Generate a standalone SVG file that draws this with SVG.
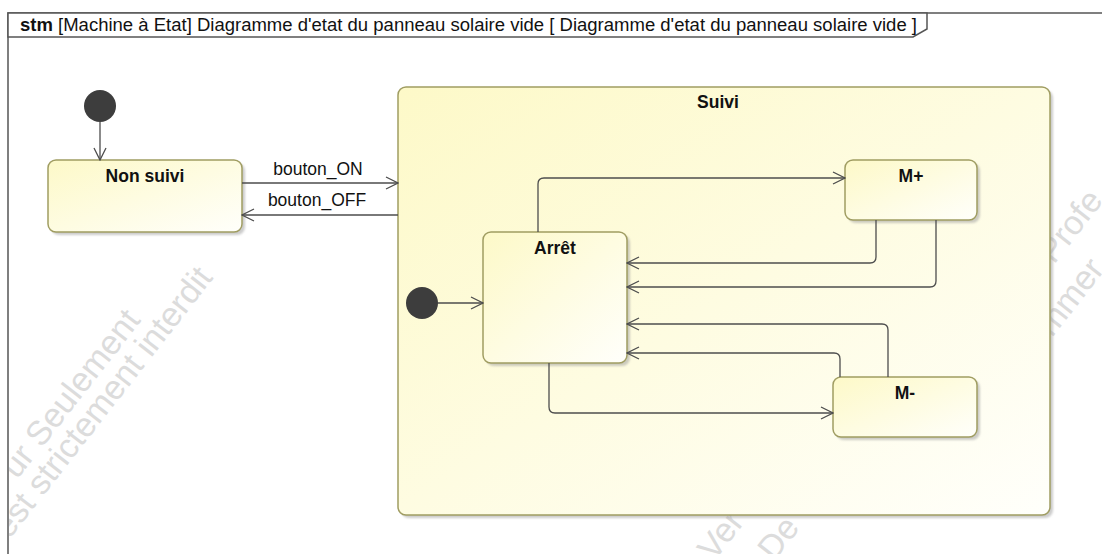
<svg xmlns="http://www.w3.org/2000/svg" width="1102" height="554" viewBox="0 0 1102 554">
<style>
.node{fill:url(#ng);stroke:#a09d62;stroke-width:1.5}
.shadow{fill:#9a9a9a;opacity:.5;filter:url(#blur)}
.lbl{font-family:"Liberation Sans",Arial,sans-serif;font-size:17.5px;font-weight:bold;fill:#111;text-anchor:middle}
.elbl{font-family:"Liberation Sans",Arial,sans-serif;font-size:17.5px;fill:#111;text-anchor:middle}
.edge{fill:none;stroke:#4d4d4d;stroke-width:1.3;marker-end:url(#arr)}
.init{fill:#3d3d3d}
.wm{font-family:"Liberation Sans",Arial,sans-serif;font-size:34px;fill:#dcdcdc}
.frame{fill:none;stroke:#555;stroke-width:1.5}
</style>
<defs>
<linearGradient id="ng" x1="0" y1="0" x2="1" y2="1">
<stop offset="0" stop-color="#fdf9c8"/>
<stop offset="1" stop-color="#fffffb"/>
</linearGradient>
<filter id="blur" x="-10%" y="-10%" width="120%" height="120%"><feGaussianBlur stdDeviation="1"/></filter>
<marker id="arr" markerUnits="userSpaceOnUse" markerWidth="14" markerHeight="14" viewBox="0 0 14 14" refX="13" refY="7" orient="auto">
<path d="M1,1 L13,7 L1,13" fill="none" stroke="#4d4d4d" stroke-width="1.3"/>
</marker>
<clipPath id="fc"><rect x="9" y="38" width="1093" height="516"/></clipPath>
</defs>
<rect x="0" y="0" width="1102" height="554" fill="#fff"/>

<g id="watermark" clip-path="url(#fc)">
<text class="wm" transform="translate(17,480) rotate(-52)">ur Seulement</text>
<text class="wm" transform="translate(9,540) rotate(-52)">est strictement interdit</text>
<text class="wm" transform="translate(1054,265) rotate(-52)">Profe</text>
<text class="wm" transform="translate(1052,338) rotate(-52)">mmer</text>
<text class="wm" transform="translate(714,562) rotate(-52)">Ver</text>
<text class="wm" transform="translate(774,562) rotate(-52)">De</text>
</g>

<g id="frame">
<path class="frame" d="M8,554 V13 H1102"/>
<path d="M8,13 H927 V29 L913,37 H8 Z" fill="#fff" stroke="#555" stroke-width="1.5"/>
<text x="20" y="31" font-family="'Liberation Sans',Arial,sans-serif" font-size="17.5" fill="#111" textLength="897" lengthAdjust="spacingAndGlyphs"><tspan font-weight="bold">stm</tspan> [Machine à Etat] Diagramme d'etat du panneau solaire vide [ Diagramme d'etat du panneau solaire vide ]</text>
</g>

<g id="node-suivi">
<rect class="shadow" x="401" y="90" width="652" height="428" rx="8"/>
<rect class="node" x="398" y="87" width="652" height="428" rx="8"/>
<text class="lbl" x="718" y="108">Suivi</text>
</g>

<g id="node-init1">
<circle class="init" cx="100" cy="106" r="16"/>
</g>

<g id="node-nonsuivi">
<rect class="shadow" x="51" y="163" width="194" height="72" rx="8"/>
<rect class="node" x="48" y="160" width="194" height="72" rx="8"/>
<text class="lbl" x="145" y="182">Non suivi</text>
</g>

<g id="node-init2">
<circle class="init" cx="422" cy="303" r="16"/>
</g>

<g id="node-arret">
<rect class="shadow" x="486" y="235" width="144" height="131" rx="8"/>
<rect class="node" x="483" y="232" width="144" height="131" rx="8"/>
<text class="lbl" x="555" y="254">Arrêt</text>
</g>

<g id="node-mplus">
<rect class="shadow" x="848" y="163" width="132" height="60" rx="8"/>
<rect class="node" x="845" y="160" width="132" height="60" rx="8"/>
<text class="lbl" x="911" y="182">M+</text>
</g>

<g id="node-mminus">
<rect class="shadow" x="836" y="380" width="144" height="60" rx="8"/>
<rect class="node" x="833" y="377" width="144" height="60" rx="8"/>
<text class="lbl" x="905" y="399">M-</text>
</g>

<g id="connectors">
<path class="edge" d="M100,122 V160"/>
<path class="edge" d="M242,183 H398"/>
<text class="elbl" x="318" y="175">bouton_ON</text>
<path class="edge" d="M398,215 H242"/>
<text class="elbl" x="317" y="206">bouton_OFF</text>
<path class="edge" d="M438,303 H483"/>
<path class="edge" d="M538,232 V184 Q538,178 544,178 H845"/>
<path class="edge" d="M876,220 V257 Q876,263 870,263 H627"/>
<path class="edge" d="M936,220 V281 Q936,287 930,287 H627"/>
<path class="edge" d="M888,377 V330 Q888,324 882,324 H627"/>
<path class="edge" d="M840,377 V359 Q840,353 834,353 H627"/>
<path class="edge" d="M549,363 V407 Q549,413 555,413 H833"/>
</g>
</svg>
